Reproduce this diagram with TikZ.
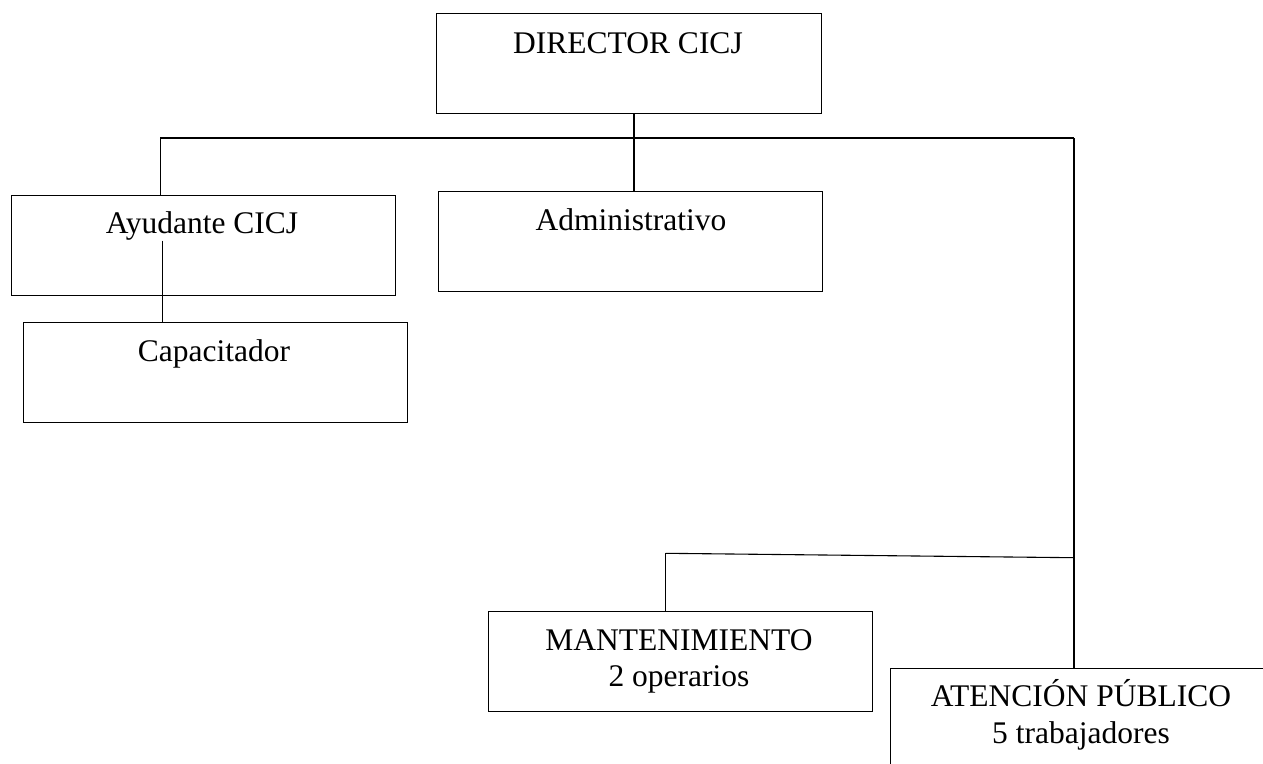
\documentclass[tikz,border=0pt]{standalone}
\usepackage{fontspec}
\setmainfont{Liberation Serif}
\begin{document}
\begin{tikzpicture}[x=1pt,y=-1pt,
  box/.style={draw,line width=1.1pt,inner sep=0pt,anchor=north west},
  lbl/.style={inner sep=0pt,anchor=base,align=center,font=\fontsize{31.5}{36.7}\selectfont},
  conn/.style={line width=1.1pt}]
\useasboundingbox (0,0) rectangle (1263,763);
\clip (0,0) rectangle (1263,763);
% boxes
\node[box,minimum width=385,minimum height=100] (dir) at (436,13) {};
\node[box,minimum width=384,minimum height=100] (ayu) at (11,195) {};
\node[box,minimum width=384,minimum height=100] (adm) at (438,191) {};
\node[box,minimum width=384,minimum height=100] (cap) at (23,322) {};
\node[box,minimum width=384,minimum height=100] (man) at (488,611) {};
\node[box,minimum width=384,minimum height=140] (ate) at (890,668) {};
% texts
\node[lbl] (tdir) at (628,53) {DIRECTOR CICJ};
\node[lbl] (tayu) at (202,233) {Ayudante CICJ};
\node[lbl] (tadm) at (631,230) {Administrativo};
\node[lbl] (tcap) at (214,361.7) {Capacitador};
\node[lbl] (tman) at (679,686.7) {MANTENIMIENTO\\2 operarios};
\node[lbl] (tate) at (1081,743.3) {ATENCIÓN PÚBLICO\\5 trabajadores};
% junctions
\coordinate (j0) at (634,138);
\coordinate (jL) at (160.3,138);
\coordinate (jR) at (1074,138);
\coordinate (ja) at (162.7,240.7);
\coordinate (m0) at (665.7,553.3);
\coordinate (m1) at (1074,557.7);
% connectors
\draw[conn] (jL) -- (jR);
\draw[conn] (dir.south -| j0) -- (adm.north -| j0);
\draw[conn] (jL) -- (ayu.north -| jL);
\draw[conn] (ja) -- (cap.north -| ja);
\draw[conn] (jR) -- (ate.north -| jR);
\draw[conn] (m0) -- (m1);
\draw[conn] (m0) -- (man.north -| m0);
\end{tikzpicture}
\end{document}
